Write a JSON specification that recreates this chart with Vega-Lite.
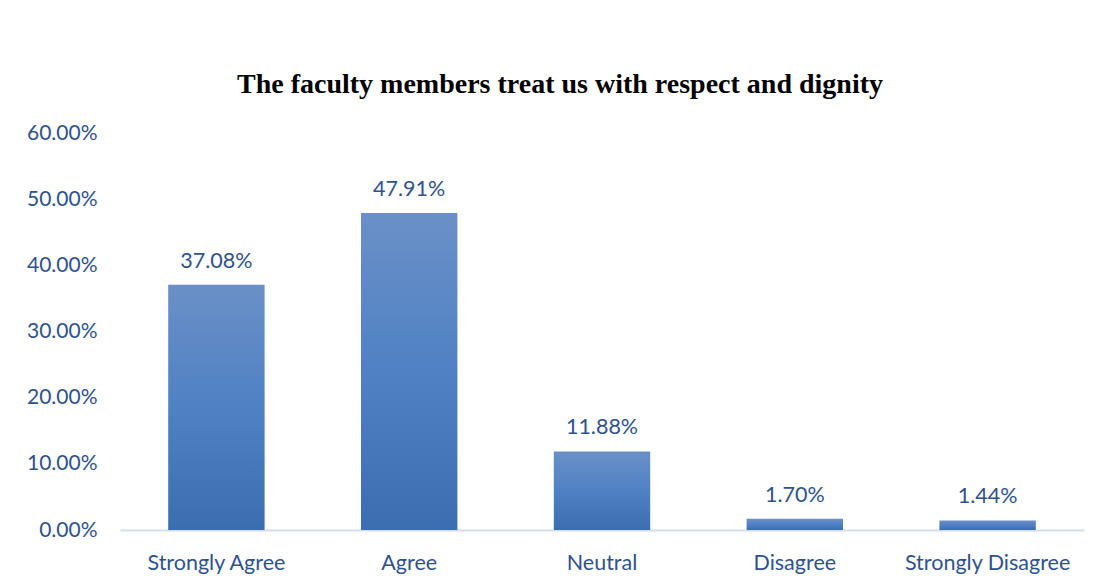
{
  "$schema": "https://vega.github.io/schema/vega-lite/v6.json",
  "width": 964,
  "height": 397,
  "autosize": {"type": "none"},
  "padding": {"left": 120, "top": 133, "right": 15, "bottom": 55},
  "background": "white",
  "title": {
    "text": "The faculty members treat us with respect and dignity",
    "font": "Liberation Serif",
    "fontSize": 28,
    "fontWeight": "bold",
    "color": "black",
    "anchor": "middle",
    "frame": "group",
    "dx": -42,
    "offset": 23
  },
  "config": {
    "view": {"stroke": null}
  },
  "data": {
    "values": [
      {"response": "Strongly Agree", "pct": 0.3708},
      {"response": "Agree", "pct": 0.4791},
      {"response": "Neutral", "pct": 0.1188},
      {"response": "Disagree", "pct": 0.017},
      {"response": "Strongly Disagree", "pct": 0.0144}
    ]
  },
  "encoding": {
    "x": {
      "field": "response",
      "type": "nominal",
      "sort": null,
      "title": null,
      "scale": {"paddingInner": 0.5, "paddingOuter": 0.25},
      "axis": {
        "labelAngle": 0,
        "ticks": false,
        "domainColor": "#d3dff0",
        "domainWidth": 2,
        "labelFont": "Lato",
        "labelFontSize": 21.5,
        "labelColor": "#2f528f",
        "labelPadding": 22
      }
    },
    "y": {
      "field": "pct",
      "type": "quantitative",
      "title": null,
      "scale": {"domain": [0, 0.6]},
      "axis": {
        "format": ".2%",
        "values": [0, 0.1, 0.2, 0.3, 0.4, 0.5, 0.6],
        "domain": false,
        "ticks": false,
        "grid": false,
        "labelFont": "Lato",
        "labelFontSize": 21,
        "labelColor": "#2f528f",
        "labelPadding": 23
      }
    }
  },
  "layer": [
    {
      "mark": {
        "type": "bar",
        "color": {
          "gradient": "linear",
          "x1": 0, "y1": 0, "x2": 0, "y2": 1,
          "stops": [
            {"offset": 0, "color": "#6b90c7"},
            {"offset": 0.5, "color": "#4f81c4"},
            {"offset": 1, "color": "#3b6eb0"}
          ]
        }
      }
    },
    {
      "mark": {
        "type": "text",
        "baseline": "bottom",
        "dy": -12,
        "font": "Lato",
        "fontSize": 21.5,
        "color": "#2f528f"
      },
      "encoding": {
        "text": {"field": "pct", "type": "quantitative", "format": ".2%"}
      }
    }
  ]
}
